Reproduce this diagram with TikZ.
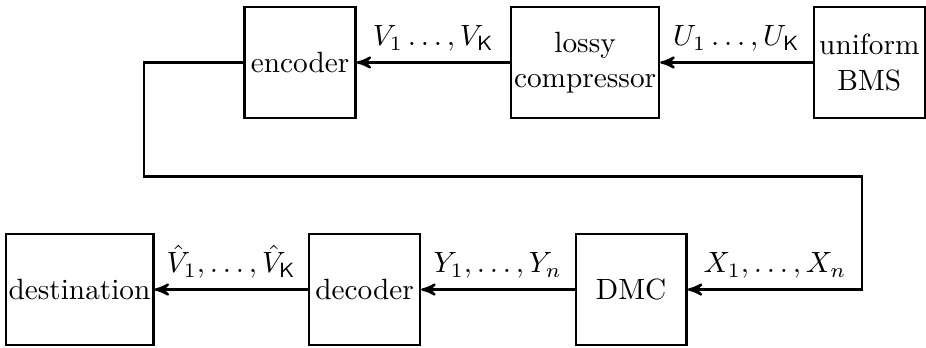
\documentclass[tikz,border=0pt]{standalone}
\usepackage{amsmath}
\usepackage{amssymb}
\usepackage{tikz}
\usetikzlibrary{arrows, positioning}

\begin{document}
\begin{tikzpicture}[
			thick,
			>=stealth',
			block/.style={
					draw,
					minimum size=1.33cm,
					inner sep=1pt,
					align=center
				},
			lbl/.style={
					draw=none,
					above
				}
		]
		\useasboundingbox (0, 0) rectangle (11.11, -4.164);

		% source side
		\node[block] (bms) at (10.43, -0.75) {uniform\\BMS};
		\node[block] (comp) at (7.02, -0.75) {lossy\\compressor};
		\node[block] (enc) at (3.60, -0.75) {encoder};

		% channel side
		\node[block] (dmc) at (7.572, -3.474) {DMC};
		\node[block] (dec) at (4.374, -3.474) {decoder};
		\node[block] (dest) at (0.954, -3.474) {destination};

		\coordinate (bendL) at (1.728, -2.118);
		\coordinate (bendR) at (10.344, -2.118);

		\draw[->] (bms) -- node[lbl] {$U_1 \ldots, U_{\mathsf{K}}$} (comp);
		\draw[->] (comp) -- node[lbl] {$V_1 \ldots, V_{\mathsf{K}}$} (enc);
		\draw[->] (enc.west) -| (bendL) -- (bendR)
		|- node[lbl, pos=0.75] {$X_1, \ldots, X_n$} (dmc.east);
		\draw[->] (dmc) -- node[lbl] {$Y_1, \ldots, Y_n$} (dec);
		\draw[->] (dec) -- node[lbl] {$\hat{V}_1, \ldots, \hat{V}_{\mathsf{K}}$} (dest);
	\end{tikzpicture}
\end{document}
